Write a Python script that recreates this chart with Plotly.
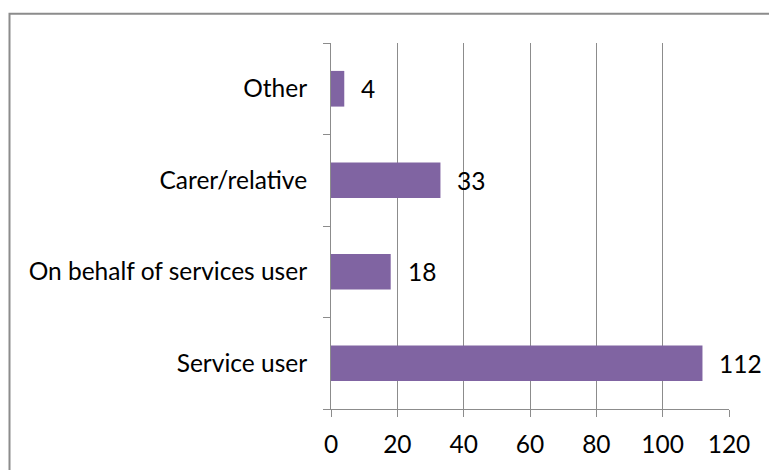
import plotly.graph_objects as go

# Respondent type counts (bottom to top as drawn)
categories = ["Service user", "On behalf of services user", "Carer/relative", "Other"]
counts = [112, 18, 33, 4]
x_ticks = [0, 20, 40, 60, 80, 100, 120]

BAR_COLOR = "#8064A2"
AXIS_GRAY = "#8C8C8C"
FONT = dict(family="Lato, 'Open Sans', sans-serif", size=24.5, color="#000000")

W, H = 769, 470
L, R, T, B = 331, 40, 43, 57

fig = go.Figure(
    go.Bar(
        x=counts,
        y=categories,
        orientation="h",
        marker=dict(color=BAR_COLOR, line=dict(width=0)),
        hoverinfo="skip",
    )
)

# Value labels to the right of each bar
for c, v in zip(categories, counts):
    fig.add_annotation(
        x=v, y=c, xref="x", yref="y",
        text=str(v), showarrow=False,
        xanchor="left", yanchor="middle",
        xshift=15, font=FONT,
    )

# Chart frame
pw, ph = W - L - R, H - T - B
fig.add_shape(
    type="rect", xref="paper", yref="paper",
    x0=(9.5 - L) / pw, x1=(W + 10 - L) / pw,
    y0=(H - B - (H + 10)) / ph, y1=(H - B - 13.5) / ph,
    line=dict(color=AXIS_GRAY, width=2), fillcolor="rgba(0,0,0,0)",
    layer="below",
)

fig.update_layout(
    width=W, height=H,
    margin=dict(l=L, r=R, t=T, b=B),
    paper_bgcolor="white", plot_bgcolor="white",
    bargap=0.61,
    showlegend=False,
    font=FONT,
    xaxis=dict(
        range=[0, 120],
        tickvals=x_ticks,
        ticktext=[str(t) for t in x_ticks],
        showgrid=True, gridcolor=AXIS_GRAY, gridwidth=1,
        zeroline=False,
        showline=True, linecolor=AXIS_GRAY, linewidth=1,
        ticks="outside", ticklen=7, tickcolor=AXIS_GRAY, tickwidth=1,
        ticklabelstandoff=7,
        tickfont=FONT,
        fixedrange=True,
    ),
    yaxis=dict(
        type="category",
        categoryorder="array", categoryarray=categories,
        showgrid=False, zeroline=False,
        showline=True, linecolor=AXIS_GRAY, linewidth=1,
        ticks="outside", ticklen=7, tickcolor=AXIS_GRAY, tickwidth=1,
        tickson="boundaries",
        ticklabelstandoff=18,
        tickfont=FONT,
        fixedrange=True,
    ),
)

fig.write_html("out.html")
